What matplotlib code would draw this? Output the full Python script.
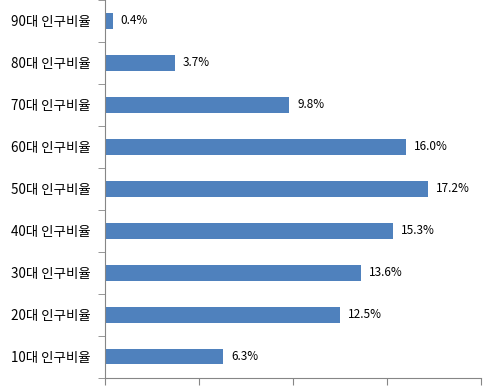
import matplotlib.pyplot as plt
import numpy as np

plt.rcParams['font.family'] = ['Noto Sans CJK KR', 'DejaVu Sans']

# 데이터
labels = ["10대 인구비율", "20대 인구비율", "30대 인구비율", "40대 인구비율", "50대 인구비율",
          "60대 인구비율", "70대 인구비율", "80대 인구비율", "90대 인구비율"]
values = [6.3, 12.5, 13.6, 15.3, 17.2, 16.0, 9.8, 3.7, 0.4]

fig = plt.figure(figsize=(4.98, 3.87), dpi=100)
ax = fig.add_axes([105 / 498, 9.5 / 387, 376 / 498, 377.5 / 387])

y = np.arange(len(labels))
ax.barh(y, values, height=0.38, color="#4F81BD")

for yi, v in zip(y, values):
    ax.text(v + 0.42, yi, f"{v:.1f}%", va="center", ha="left", fontsize=8.5, color="#000000")

ax.set_xlim(0, 20)
ax.set_ylim(-0.5, len(labels) - 0.5)

ax.set_xticks([0, 5, 10, 15, 20])
ax.set_xticklabels([])
ax.set_yticks(y)
ax.set_yticklabels(labels, fontsize=9.7)
ax.set_yticks(np.arange(len(labels) + 1) - 0.5, minor=True)
ax.tick_params(axis="y", which="major", length=0, pad=10.5)
ax.tick_params(axis="y", which="minor", length=5, color="#868686")
ax.tick_params(axis="x", length=5, color="#868686")

for s in ["top", "right"]:
    ax.spines[s].set_visible(False)
for s in ["left", "bottom"]:
    ax.spines[s].set_color("#868686")

fig.savefig("out.png", dpi=100)
